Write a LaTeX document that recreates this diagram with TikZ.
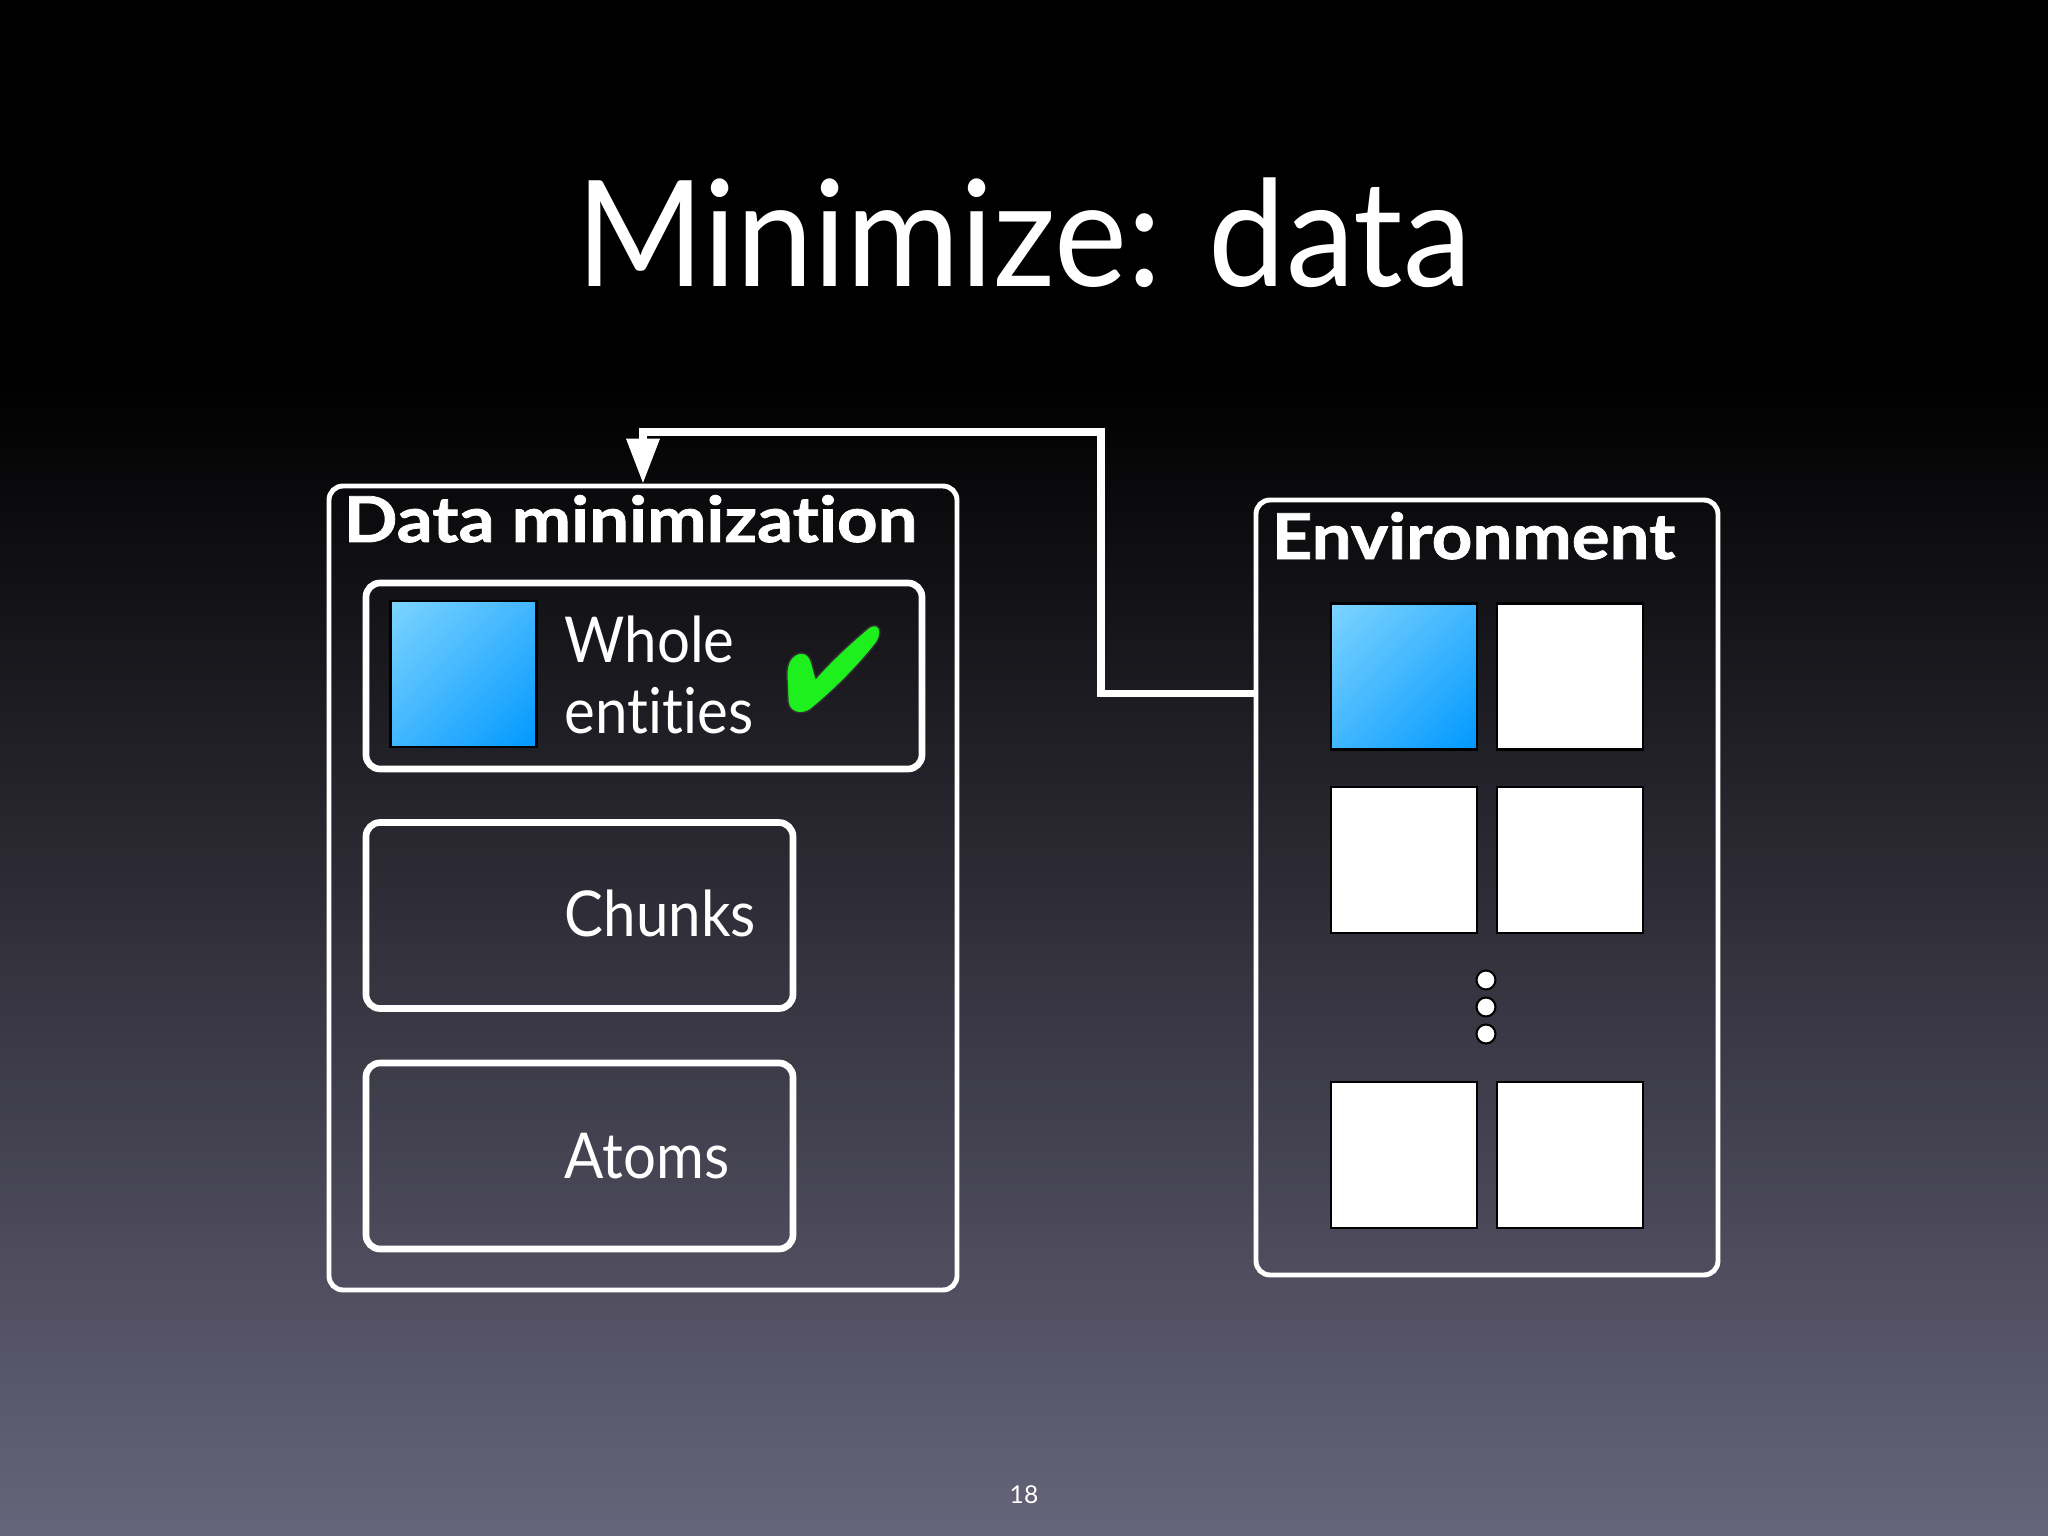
\documentclass[tikz,border=0pt]{standalone}
\usepackage{fontspec}
\setmainfont{Lato}[Ligatures = NoCommon]
\newfontfamily\titlefont{Lato}[FakeStretch = 0.935, Ligatures = NoCommon]
\newfontfamily\bodyfont{Lato}[FakeStretch = 0.92, Ligatures = NoCommon]
\newfontfamily\headfont{Lato}[FakeStretch = 1.12, FakeBold = 1.2, Ligatures = NoCommon]
\usetikzlibrary{arrows.meta, shadings}
\definecolor{bgmid}{RGB}{44,42,84}
\definecolor{bgbot}{RGB}{102,100,122}
\definecolor{bluelt}{RGB}{125,212,255}
\definecolor{bluemid}{RGB}{65,182,255}
\definecolor{bluedk}{RGB}{0,152,255}
\definecolor{tick}{RGB}{30,240,30}
\begin{document}
\begin{tikzpicture}[
        panel/.style = {draw = white, line width = 1.4pt, rounded corners = 4pt, inner sep = 0pt},
        choice/.style = {draw = white, line width = 1.9pt, rounded corners = 4pt, inner sep = 0pt, minimum height = 1.86cm},
        entity/.style = {draw = black, fill = white, line width = 0.6pt, minimum size = 1.46cm, inner sep = 0pt},
        blueentity/.style = {entity, upper left = bluelt, upper right = bluemid, lower left = bluemid, lower right = bluedk},
        heading/.style = {text = white, font = \headfont\bfseries\fontsize{18}{18}\selectfont, anchor = base west, inner sep = 0pt},
        choicetext/.style = {text = white, font = \bodyfont\fontsize{18}{18}\selectfont, anchor = base west, inner sep = 0pt},
        moredot/.style = {circle, draw = black, fill = white, line width = 0.6pt, minimum size = 0.19cm, inner sep = 0pt},
        flow/.style = {draw = white, line width = 2pt, -{Triangle[length = 4.5mm, width = 3.2mm]}}
    ]
        % slide background
        \useasboundingbox (0,0) rectangle (20.48,-15.36);
        \fill[black] (0,0) rectangle (20.48,-3.8);
        \shade[top color = black, middle color = bgmid, bottom color = bgbot] (0,-3.8) rectangle (20.48,-15.36);
        \node[text = white, font = \titlefont\fontsize{42}{42}\selectfont, anchor = base, inner sep = 0pt] (title) at (10.24,-2.87) {Minimize: data};
        \node[text = white, font = \fontsize{7}{7}\selectfont, inner sep = 0pt] (page) at (10.24,-14.95) {18};
        % left panel
        \node[panel, minimum width = 6.28cm, minimum height = 8.04cm] (dm) at (6.43,-8.88) {};
        \node[heading] (dmtitle) at (3.43,-5.42) {Data minimization};
        \node[choice, minimum width = 5.56cm] (whole) at (6.44,-6.76) {};
        \node[choice, minimum width = 4.27cm] (chunks) at (5.795,-9.155) {};
        \node[choice, minimum width = 4.27cm] (atoms) at (5.795,-11.56) {};
        \node[blueentity] (wholesq) at (4.635,-6.74) {};
        \begin{scope}[every node/.append style = {choicetext}]
            \node (wholea) at (5.64,-6.63) {Whole};
            \node (wholeb) at (5.64,-7.34) {entities};
            \node (chunkst) at (5.64,-9.36) {Chunks};
            \node (atomst) at (5.64,-11.78) {Atoms};
        \end{scope}
        % tick
        \fill[tick, draw = black!80, line width = 0.4pt] (8.00,-6.53) .. controls (7.88,-6.56) and (7.86,-6.68) .. (7.87,-6.80)
            -- (7.88,-7.02) .. controls (7.89,-7.12) and (8.00,-7.16) .. (8.10,-7.10)
            .. controls (8.35,-6.90) and (8.62,-6.62) .. (8.77,-6.42)
            .. controls (8.81,-6.36) and (8.81,-6.28) .. (8.77,-6.26)
            .. controls (8.74,-6.25) and (8.70,-6.26) .. (8.67,-6.29)
            .. controls (8.48,-6.45) and (8.30,-6.62) .. (8.16,-6.78)
            .. controls (8.13,-6.70) and (8.12,-6.60) .. (8.09,-6.57)
            .. controls (8.07,-6.54) and (8.04,-6.53) .. cycle;
        % right panel
        \node[panel, minimum width = 4.62cm, minimum height = 7.75cm] (env) at (14.87,-8.875) {};
        \node[heading] (envtitle) at (12.71,-5.59) {Environment};
        \node[blueentity] (e11) at (14.04,-6.765) {};
        \node[entity] (e12) at (15.70,-6.765) {};
        \node[entity] (e21) at (14.04,-8.60) {};
        \node[entity] (e22) at (15.70,-8.60) {};
        \node[entity] (e31) at (14.04,-11.55) {};
        \node[entity] (e32) at (15.70,-11.55) {};
        \foreach \y [count = \i] in {-9.80,-10.07,-10.34}
            \node[moredot] (d\i) at (14.86,\y) {};
        % feedback
        \draw[flow] ([yshift = 19.4mm]env.west) -| (11.01,-4.32) -| (dm.north);
    \end{tikzpicture}
\end{document}
